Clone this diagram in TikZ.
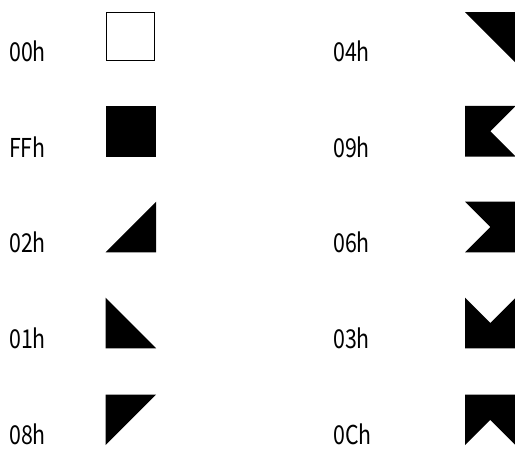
\documentclass[tikz,border=0pt]{standalone}
\usepackage{fontspec}
\setmainfont{Noto Sans CJK JP}[FakeStretch=0.82]
\begin{document}
\begin{tikzpicture}[x=1pt,y=-1pt,
  lbl/.style={anchor=base west, inner sep=0pt, font=\fontsize{26}{30}\selectfont},
  blk/.style={fill=black}]
\useasboundingbox (0,0) rectangle (515,448);
\def\h{25.3}
% labels
\node[lbl] (l00) at (9,61.5) {00h};
\node[lbl] (lFF) at (9,157) {FFh};
\node[lbl] (l02) at (9,252.5) {02h};
\node[lbl] (l01) at (9,348.5) {01h};
\node[lbl] (l08) at (9,444) {08h};
\node[lbl] (l04) at (333,61.5) {04h};
\node[lbl] (l09) at (333,157) {09h};
\node[lbl] (l06) at (333,252.5) {06h};
\node[lbl] (l03) at (333,348.5) {03h};
\node[lbl] (l0C) at (333,444) {0Ch};
% left column
\draw[line width=1.2pt] (106.5,12.5) rectangle (154.5,60.5);
\begin{scope}[shift={(130.8,131.2)}]
  \fill[blk] (-\h,-\h) rectangle (\h,\h);
\end{scope}
\begin{scope}[shift={(130.8,227)}]
  \fill[blk] (-\h,\h) -- (\h,\h) -- (\h,-\h) -- cycle;
\end{scope}
\begin{scope}[shift={(130.8,323)}]
  \fill[blk] (-\h,-\h) -- (-\h,\h) -- (\h,\h) -- cycle;
\end{scope}
\begin{scope}[shift={(130.8,419.8)}]
  \fill[blk] (-\h,-\h) -- (\h,-\h) -- (-\h,\h) -- cycle;
\end{scope}
% right column
\begin{scope}[shift={(490.3,37.5)}]
  \fill[blk] (-\h,-\h) -- (\h,-\h) -- (\h,\h) -- cycle;
\end{scope}
\begin{scope}[shift={(490.3,131.2)}]
  \fill[blk] (-\h,-\h) -- (\h,-\h) -- (0,0) -- (\h,\h) -- (-\h,\h) -- cycle;
\end{scope}
\begin{scope}[shift={(490.3,227)}]
  \fill[blk] (-\h,-\h) -- (\h,-\h) -- (\h,\h) -- (-\h,\h) -- (0,0) -- cycle;
\end{scope}
\begin{scope}[shift={(490.3,323)}]
  \fill[blk] (-\h,-\h) -- (0,0) -- (\h,-\h) -- (\h,\h) -- (-\h,\h) -- cycle;
\end{scope}
\begin{scope}[shift={(490.3,419.8)}]
  \fill[blk] (-\h,-\h) -- (\h,-\h) -- (\h,\h) -- (0,0) -- (-\h,\h) -- cycle;
\end{scope}
\end{tikzpicture}
\end{document}
